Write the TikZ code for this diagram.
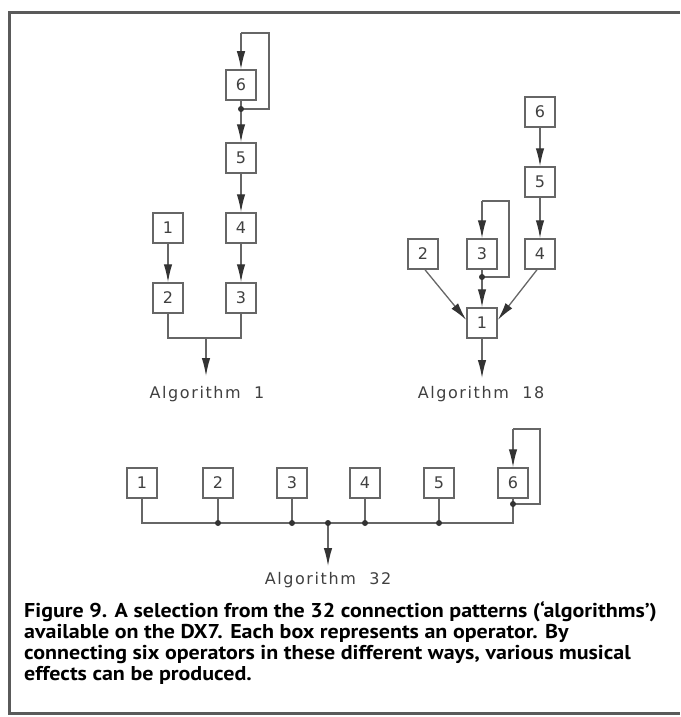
\documentclass[tikz,border=0pt]{standalone}
\usepackage{fontspec}
\usetikzlibrary{arrows.meta}
\newfontfamily\plotfont[LetterSpace=10]{DejaVu Sans}
\newfontfamily\capfont{PT Sans}
\definecolor{lin}{HTML}{666666}
\definecolor{txt}{HTML}{404040}
\definecolor{ahd}{HTML}{333333}
\definecolor{frm}{HTML}{5A5A5A}
\tikzset{
  opbox/.style={draw=lin, line width=1.5pt, minimum width=30pt, minimum height=30pt, inner sep=0pt, font=\plotfont\fontsize{16}{16}\selectfont, text=txt},
  wire/.style={draw=lin, line width=1.3pt},
  arr/.style={wire, -{Latex[length=18pt,width=8.5pt,color=ahd]}},
  dot/.style={circle, fill=ahd, inner sep=0pt, minimum size=6pt},
  alglabel/.style={font=\plotfont\fontsize{16}{16}\selectfont, text=txt, inner sep=0pt},
  frame/.style={draw=frm, line width=3pt},
}
\begin{document}
\begin{tikzpicture}[x=1pt,y=-1pt]
\useasboundingbox (0,0) rectangle (680,717);
% frame
\draw[frame] (680,13) -- (9,13) -- (9,713) -- (680,713);

% ---------- Algorithm 1 ----------
\node[opbox] (a1six) at (241,85) {6};
\node[opbox] (a1five) at (241,158) {5};
\node[opbox] (a1four) at (241,228) {4};
\node[opbox] (a1three) at (241,298) {3};
\node[opbox] (a1one) at (168,228) {1};
\node[opbox] (a1two) at (168,298) {2};
\coordinate (a1fb) at (241,109);
\coordinate (a1fbr) at (269,109);
\coordinate (a1fbt) at (269,33);
\coordinate (a1fbl) at (241,33);
\draw[wire] (a1fb) -- (a1fbr) -- (a1fbt) -- (a1fbl);
\draw[arr] (a1fbl) -- (a1six.north);
\draw[arr] (a1six.south) -- (a1five.north);
\node[dot] at (a1fb) {};
\draw[arr] (a1five.south) -- (a1four.north);
\draw[arr] (a1four.south) -- (a1three.north);
\draw[arr] (a1one.south) -- (a1two.north);
\coordinate (a1bl) at (168,338);
\coordinate (a1br) at (241,338);
\coordinate (a1bm) at (206,338);
\coordinate (a1out) at (206,376);
\draw[wire] (a1two.south) -- (a1bl) -- (a1br) -- (a1three.south);
\draw[arr] (a1bm) -- (a1out);
\node[alglabel] (a1lab) at (207,394) {Algorithm\ \ 1};

% ---------- Algorithm 18 ----------
\node[opbox] (b6) at (540,112) {6};
\node[opbox] (b5) at (540,182) {5};
\node[opbox] (b4) at (540,254) {4};
\node[opbox] (b3) at (482,254) {3};
\node[opbox] (b2) at (423,254) {2};
\node[opbox] (b1) at (482,323) {1};
\draw[arr] (b6.south) -- (b5.north);
\draw[arr] (b5.south) -- (b4.north);
\coordinate (bfb) at (482,277);
\coordinate (bfbr) at (509,277);
\coordinate (bfbt) at (509,201);
\coordinate (bfbl) at (482,201);
\draw[wire] (bfb) -- (bfbr) -- (bfbt) -- (bfbl);
\draw[arr] (bfbl) -- (b3.north);
\draw[arr] (b3.south) -- (b1.north);
\node[dot] at (bfb) {};
\draw[arr] ([xshift=2pt]b2.south) -- ([yshift=3pt]b1.west);
\draw[arr] ([xshift=-3pt]b4.south) -- ([yshift=3pt]b1.east);
\coordinate (bout) at (482,378);
\draw[arr] (b1.south) -- (bout);
\node[alglabel] (blab) at (481,394) {Algorithm\ \ 18};

% ---------- Algorithm 32 ----------
\node[opbox] (c1) at (142,483) {1};
\node[opbox] (c2) at (218,483) {2};
\node[opbox] (c3) at (292,483) {3};
\node[opbox] (c4) at (365,483) {4};
\node[opbox] (c5) at (439,483) {5};
\node[opbox] (c6) at (513,483) {6};
\coordinate (cbl) at (142,523);
\coordinate (cbr) at (513,523);
\coordinate (cj2) at (218,523);
\coordinate (cj3) at (292,523);
\coordinate (cj4) at (365,523);
\coordinate (cj5) at (439,523);
\coordinate (cjm) at (328,523);
\coordinate (cout) at (328,566);
\coordinate (cfb) at (513,504);
\coordinate (cfbr) at (540,504);
\coordinate (cfbt) at (540,429);
\coordinate (cfbl) at (513,429);
\draw[wire] (c1.south) -- (cbl) -- (cbr) -- (c6.south);
\draw[wire] (c2.south) -- (cj2);
\draw[wire] (c3.south) -- (cj3);
\draw[wire] (c4.south) -- (cj4);
\draw[wire] (c5.south) -- (cj5);
\draw[wire] (cfb) -- (cfbr) -- (cfbt) -- (cfbl);
\draw[arr] (cfbl) -- (c6.north);
\draw[arr] (cjm) -- (cout);
\foreach \p in {cj2,cj3,cj4,cj5,cjm,cfb} \node[dot] at (\p) {};
\node[alglabel] (clab) at (328,580) {Algorithm\ \ 32};

% ---------- caption ----------
\node[anchor=north west, align=left, inner sep=0pt, xscale=1.1, transform shape, font=\capfont\bfseries\fontsize{20}{21}\selectfont] (cap) at (24,601)
{Figure 9. A selection from the 32 connection patterns (‘algorithms’)\\
available on the DX7. Each box represents an operator. By\\
connecting six operators in these different ways, various musical\\
effects can be produced.};
\end{tikzpicture}
\end{document}
